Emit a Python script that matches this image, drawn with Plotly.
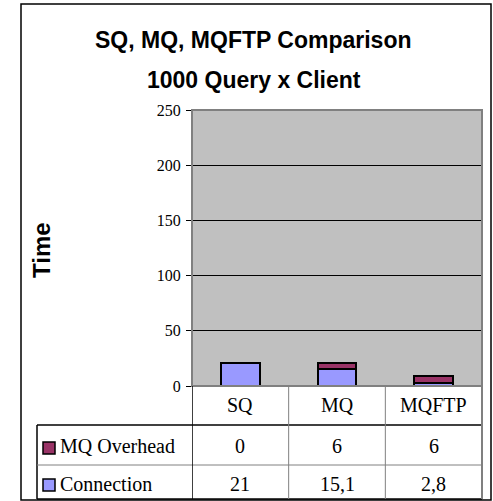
import plotly.graph_objects as go

categories = ["SQ", "MQ", "MQFTP"]
connection = [21, 15.1, 2.8]
overhead = [0, 6, 6]
connection_labels = ["21", "15,1", "2,8"]
overhead_labels = ["0", "6", "6"]
series_names = ["MQ Overhead", "Connection"]
title_lines = ["SQ, MQ, MQFTP Comparison", "1000 Query x Client"]
y_ticks = [0, 50, 100, 150, 200, 250]

W, H = 493, 501
def px(x): return x / W
def py(y): return 1 - y / H

BLUE = "#9999FF"
PURPLE = "#993366"
GRAY = "#C0C0C0"

fig = go.Figure()
fig.add_trace(go.Bar(x=categories, y=connection, name="Connection",
                     marker=dict(color=BLUE, line=dict(color="black", width=2)),
                     width=0.4))
fig.add_trace(go.Bar(x=categories, y=overhead, name="MQ Overhead",
                     marker=dict(color=PURPLE, line=dict(color="black", width=2)),
                     width=0.4))

x0, x1 = px(192), px(482)
ytop, ybot = py(110), py(386)

fig.update_layout(
    width=W, height=H, barmode="stack", showlegend=False,
    margin=dict(l=0, r=0, t=0, b=0, pad=0, autoexpand=False),
    paper_bgcolor="white", plot_bgcolor=GRAY,
    font=dict(family="Liberation Serif", color="black"),
    xaxis=dict(domain=[x0, x1], showticklabels=False, showgrid=False, automargin=False,
               range=[-0.5, 2.5], zeroline=False, showline=False, fixedrange=True),
    yaxis=dict(domain=[ybot, ytop], range=[0, 250], tickvals=y_ticks, automargin=False,
               ticks="outside", ticklen=5, tickcolor="black",
               showline=True, linecolor="black", linewidth=1,
               showgrid=True, gridcolor="black", gridwidth=1,
               zeroline=False, tickfont=dict(family="Liberation Serif", size=16, color="black"),
               ticklabelstandoff=2, fixedrange=True),
)

shapes = []
# outer frame
shapes.append(dict(type="rect", xref="paper", yref="paper",
                   x0=px(21), x1=px(491), y0=py(500), y1=py(4),
                   line=dict(color="black", width=1.5)))
# plot area border
shapes.append(dict(type="rect", xref="paper", yref="paper",
                   x0=x0, x1=x1, y0=ybot, y1=ytop,
                   line=dict(color="#808080", width=2)))

row_y = [386, 425, 465, 499]
line_col = "#808080"
shapes.append(dict(type="line", xref="paper", yref="paper",
                   x0=px(37), x1=px(37), y0=py(425), y1=py(499),
                   line=dict(color="black", width=1.5)))
for i, y in enumerate(row_y[1:]):
    shapes.append(dict(type="line", xref="paper", yref="paper",
                       x0=px(37), x1=x1, y0=py(y), y1=py(y),
                       line=dict(color="black" if i in (0, 2) else line_col,
                                 width=1.5 if i in (0, 2) else 1)))
for xv in [-0.5, 0.5, 1.5]:
    shapes.append(dict(type="line", xref="x", yref="paper",
                       x0=xv, x1=xv, y0=py(499), y1=ybot,
                       line=dict(color="black" if xv == -0.5 else line_col,
                                 width=1.5 if xv == -0.5 else 1)))
shapes.append(dict(type="line", xref="paper", yref="paper",
                   x0=x1, x1=x1, y0=py(499), y1=ybot,
                   line=dict(color=line_col, width=2)))

# legend keys
for color, yc in [(PURPLE, 448), (BLUE, 485)]:
    shapes.append(dict(type="rect", xref="paper", yref="paper",
                       x0=px(43), x1=px(55), y0=py(yc + 6), y1=py(yc - 6),
                       fillcolor=color, line=dict(color="black", width=1.5)))

def ann(text, x, y, font, xref="paper", xanchor="center", **kw):
    return dict(text=text, xref=xref, yref="paper", x=x, y=y, showarrow=False,
                xanchor=xanchor, yanchor="middle", font=font, **kw)

annotations = []
tfont = dict(family="Liberation Sans", size=23, color="black")
annotations.append(ann("<b>" + title_lines[0] + "</b>", px(254), py(40), tfont))
annotations.append(ann("<b>" + title_lines[1] + "</b>", px(254), py(80), tfont))
annotations.append(ann("<b>Time</b>", px(41), py(250),
                       dict(family="Liberation Sans", size=24, color="black"), textangle=-90))
tf = dict(family="Liberation Serif", size=20, color="black")
for c in categories:
    annotations.append(ann(c, c, py(405), tf, xref="x"))
for c, t in zip(categories, overhead_labels):
    annotations.append(ann(t, c, py(446), tf, xref="x"))
for c, t in zip(categories, connection_labels):
    annotations.append(ann(t, c, py(484), tf, xref="x"))
annotations.append(ann(series_names[0], px(58), py(446), tf, xanchor="left"))
annotations.append(ann(series_names[1], px(58), py(484), tf, xanchor="left"))

fig.update_layout(shapes=shapes, annotations=annotations)
fig.write_html("out.html", config={"displayModeBar": False},
               post_script="document.body.style.margin='0';document.body.style.overflow='hidden';")
